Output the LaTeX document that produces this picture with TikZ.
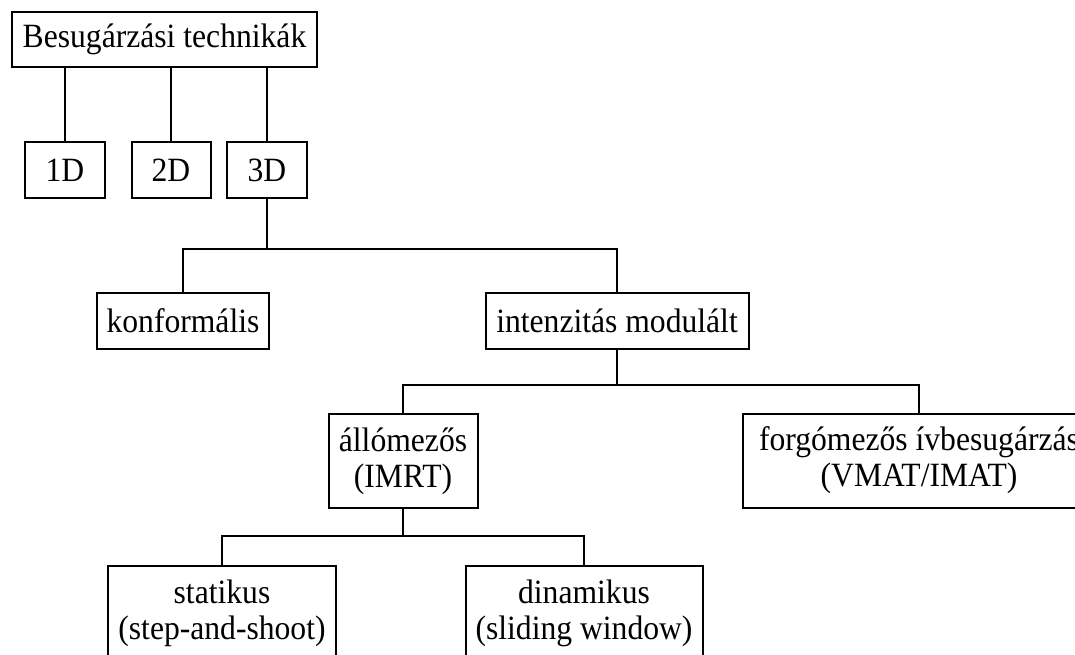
\documentclass[tikz,border=0pt]{standalone}
\usepackage{fontspec}
\setmainfont{Liberation Serif}[FakeStretch=0.93]
\usetikzlibrary{calc}

\begin{document}
\begin{tikzpicture}[x=1pt,y=-1pt,
box/.style={rectangle,draw,line width=2pt,inner sep=0pt,align=center,
  font=\fontsize{34}{36}\selectfont,minimum height=56pt},
tall/.style={box,minimum height=94pt},
link/.style={draw,line width=2pt}]
\useasboundingbox (0,0) rectangle (1075,655);
\clip (0,0) rectangle (1075,655);
\node [box,minimum width=305pt,minimum height=55pt] (root) at (164.5,39.5) {Besugárzási technikák};
\node [box,minimum width=80pt] (d1) at (65,170) {1D};
\node [box,minimum width=79pt] (d2) at (171,170) {2D};
\node [box,minimum width=80pt] (d3) at (267,170) {3D};
\node [box,minimum width=172pt] (konf) at (183,321) {konformális};
\node [box,minimum width=263pt] (imod) at (617,321) {intenzitás modulált};
\node [tall,minimum width=149pt] (allo) at (403,461) {állómezős\\(IMRT)};
\node [tall,minimum width=352pt] (forg) at (919,460.5) {forgómezős ívbesugárzás\\(VMAT/IMAT)};
\node [tall,minimum width=228pt] (stat) at (222,613) {statikus\\(step-and-shoot)};
\node [tall,minimum width=237pt] (dyn) at (584,613) {dinamikus\\(sliding window)};
% connectors
\foreach \d in {d1,d2,d3}
  \path [link] (\d.north) -- (\d.north |- root.south);
\coordinate (j1) at ($(d3.south)+(0,50)$);
\path [link] (d3.south) -- (j1);
\path [link] (konf.north) |- (j1) -| (imod.north);
\coordinate (j2) at ($(imod.south)+(0,35)$);
\path [link] (imod.south) -- (j2);
\path [link] (allo.north) |- (j2) -| (forg.north);
\coordinate (j3) at ($(allo.south)+(0,27)$);
\path [link] (allo.south) -- (j3);
\path [link] (stat.north) |- (j3) -| (dyn.north);
\end{tikzpicture}
\end{document}
